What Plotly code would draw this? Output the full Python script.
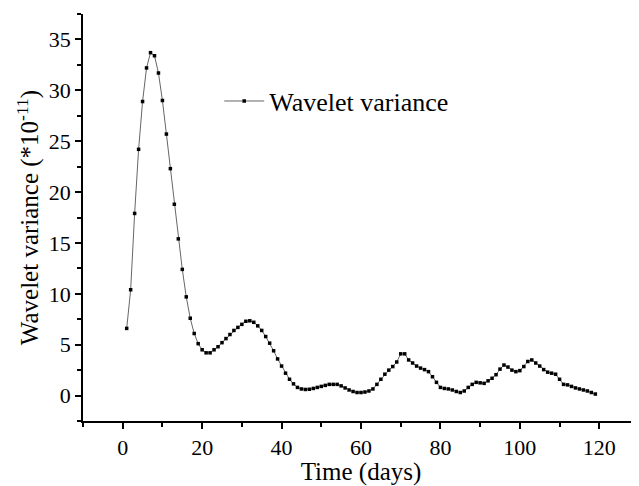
import plotly.graph_objects as go

days = list(range(1, 120))
variance = [
    6.6, 10.4, 17.9, 24.2, 28.9, 32.2, 33.7, 33.4, 31.7, 29.0,
    25.7, 22.3, 18.8, 15.4, 12.4, 9.7, 7.6, 6.1, 5.1, 4.5,
    4.2, 4.2, 4.5, 4.8, 5.2, 5.6, 6.0, 6.4, 6.7, 7.0,
    7.3, 7.35, 7.2, 6.85, 6.4, 5.8, 5.15, 4.4, 3.6, 2.9,
    2.2, 1.6, 1.15, 0.8, 0.65, 0.6, 0.62, 0.7, 0.8, 0.9,
    1.0, 1.1, 1.1, 1.1, 0.95, 0.75, 0.55, 0.4, 0.3, 0.3,
    0.35, 0.45, 0.65, 1.1, 1.6, 2.1, 2.5, 2.85, 3.3, 4.1,
    4.1, 3.5, 3.2, 2.9, 2.7, 2.55, 2.35, 1.85, 1.3, 0.8,
    0.7, 0.65, 0.55, 0.4, 0.3, 0.45, 0.8, 1.1, 1.3, 1.25,
    1.2, 1.45, 1.7, 2.05, 2.6, 3.0, 2.8, 2.5, 2.35, 2.45,
    2.85, 3.35, 3.5, 3.2, 2.9, 2.55, 2.3, 2.2, 2.1, 1.6,
    1.1, 1.05, 0.9, 0.75, 0.65, 0.55, 0.45, 0.3, 0.15,
]

x_ticks = [0, 20, 40, 60, 80, 100, 120]
y_ticks = [0, 5, 10, 15, 20, 25, 30, 35]

font_family = "Liberation Serif, Times New Roman, serif"

fig = go.Figure()
fig.add_trace(go.Scatter(
    x=days, y=variance, mode="lines+markers",
    name="Wavelet variance",
    line=dict(color="#666666", width=1),
    marker=dict(symbol="square", size=3.5, color="black"),
))

axis_common = dict(
    showline=True, linecolor="black", linewidth=1.5,
    ticks="outside", ticklen=6, tickwidth=1.5, tickcolor="black",
    showgrid=False, zeroline=False, mirror=False, automargin=False,
    tickfont=dict(family=font_family, size=22, color="black"),
)

fig.update_xaxes(
    range=[-10, 130], tickvals=x_ticks,
    minor=dict(ticks="outside", ticklen=4, tickwidth=1.5, tickcolor="black", dtick=10, tick0=-10),
    title=dict(text="Time (days)", font=dict(family=font_family, size=25, color="black"), standoff=5),
    **axis_common,
)
fig.update_yaxes(
    range=[-2.5, 37.5], tickvals=y_ticks,
    minor=dict(ticks="outside", ticklen=4, tickwidth=1.5, tickcolor="black", dtick=2.5, tick0=0),
    title=dict(text="Wavelet variance (*10<sup>-11</sup>)", font=dict(family=font_family, size=25, color="black"), standoff=3),
    **axis_common,
)

# The page places the figure 8px from the top-left corner (default body margin)
fig.update_layout(
    width=631, height=478,
    margin=dict(l=75, r=0, t=6, b=65),
    plot_bgcolor="white", paper_bgcolor="white",
    showlegend=True,
    legend=dict(
        x=0.245, y=0.786, xanchor="left", yanchor="middle",
        font=dict(family=font_family, size=26, color="black"),
        bgcolor="rgba(0,0,0,0)", itemwidth=40,
    ),
)

fig.write_html("out.html")
